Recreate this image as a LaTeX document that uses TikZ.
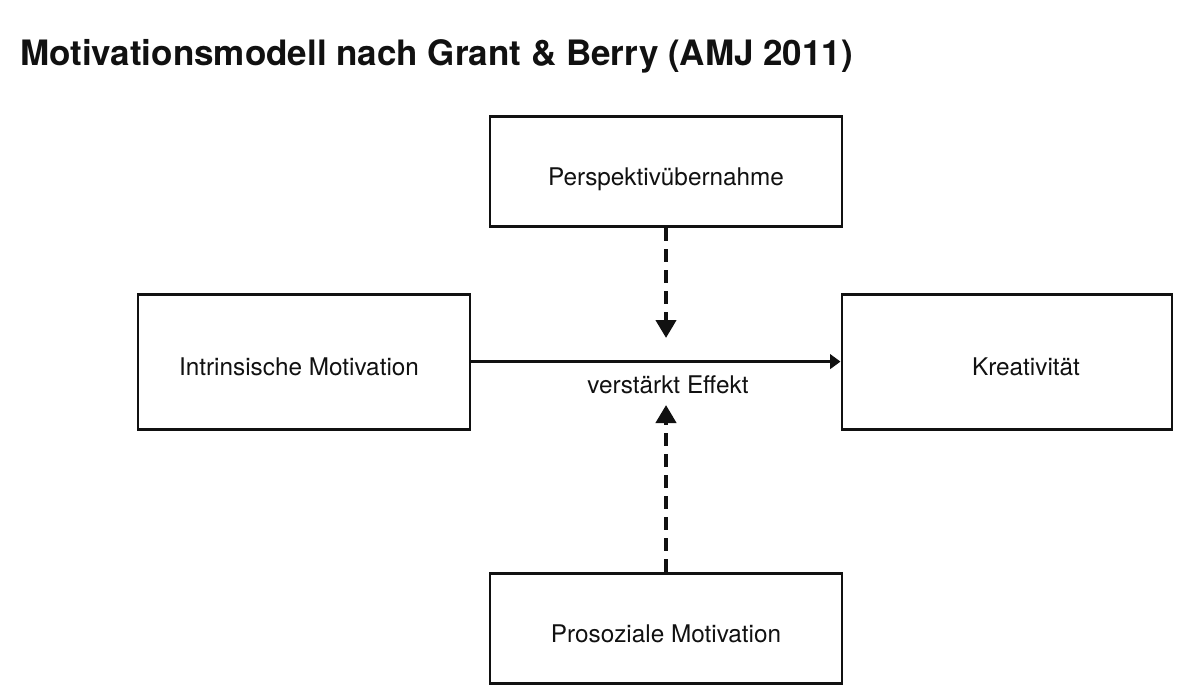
\documentclass[tikz,border=0pt]{standalone}
\usepackage{fontspec}
\setmainfont{TeX Gyre Heros}
\usepackage{xcolor}
\usetikzlibrary{positioning, arrows.meta}
\definecolor{inkblack}{HTML}{111111}

\begin{document}
\begin{tikzpicture}[
  every node/.style={rectangle, sharp corners, align=center, text=inkblack},
  modelbox/.style={draw=inkblack, line width=2.1pt, fill=white, font=\fontsize{17.3}{20}\selectfont,
    text height=0.69cm, text depth=0pt},
  arrow/.style={-{Triangle[length=0.26cm, width=0.36cm]}, line width=2.1pt, inkblack},
  modarrow/.style={-{Triangle[length=0.45cm, width=0.5cm]}, line width=3pt, inkblack,
    dash pattern=on 0.325cm off 0.2cm}
]

% Frame of the picture
\useasboundingbox (0,0) rectangle (30,-17.5);

% Title
\node[anchor=base west, font=\fontsize{24.9}{30}\selectfont\bfseries, inner sep=0pt]
  (title) at (0.5,-1.65) {Motivationsmodell nach Grant \& Berry (AMJ 2011)};

% Top node: moderator
\node[modelbox, minimum width=8.8cm, minimum height=2.75cm]
  (perspektive) at (16.65,-4.29) {Perspektivübernahme};

% Left node: predictor
\node[modelbox, minimum width=8.3cm, minimum height=3.375cm]
  (intrinsisch) at (7.6,-9.04) {Intrinsische Motivation\hspace*{0.25cm}};

% Right node: outcome
\node[modelbox, minimum width=8.25cm, minimum height=3.375cm]
  (kreativ) at (25.175,-9.04) {\hspace*{0.95cm}Kreativität};

% Bottom node: moderator
\node[modelbox, minimum width=8.8cm, minimum height=2.75cm]
  (prosozial) at (16.65,-15.71) {Prosoziale Motivation};

% Label and arrow ends in the middle
\node[font=\fontsize{17.3}{20}\selectfont] (effekt) at (16.7,-9.63) {verstärkt Effekt};
\coordinate (obenEnde) at (16.65,-8.45);
\coordinate (untenEnde) at (16.65,-10.125);

% Arrows
\draw[arrow] (intrinsisch.east) -- (kreativ.west);
\draw[modarrow] (perspektive.south) -- (obenEnde);
\draw[modarrow] (prosozial.north) -- (untenEnde);

\end{tikzpicture}
\end{document}
